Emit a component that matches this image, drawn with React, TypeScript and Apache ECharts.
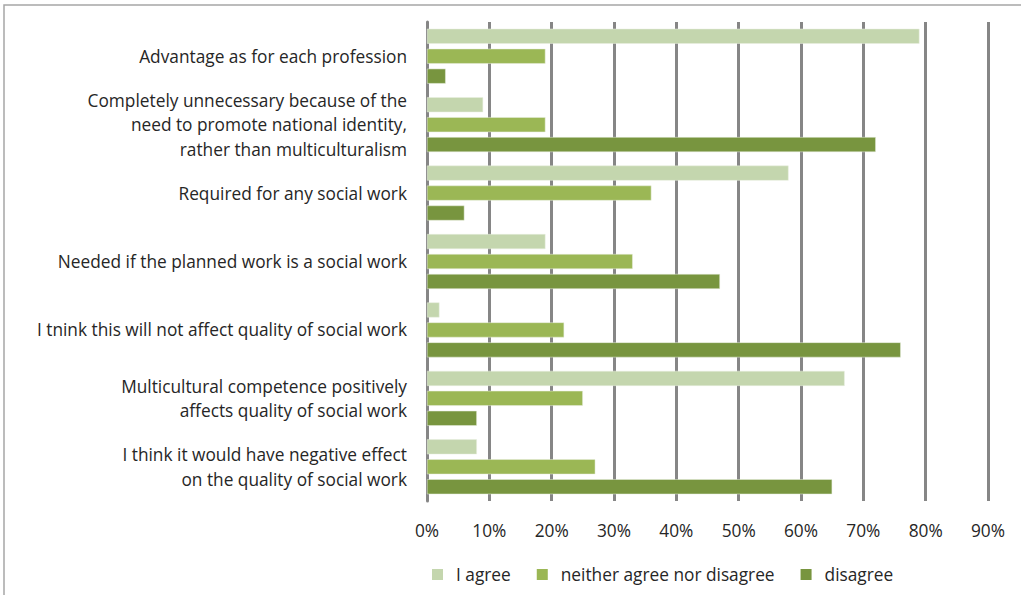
import React, { useEffect, useRef } from "react";
import * as echarts from "echarts";

const categories = [
  "Advantage as for each profession",
  "Completely unnecessary because of the\nneed to promote national identity,\nrather than multiculturalism",
  "Required for any social work",
  "Needed if the planned work is a social work",
  "I tnink this will not affect quality of social work",
  "Multicultural competence positively\naffects quality of social work",
  "I think it would have negative effect\non the quality of social work",
];

const agree = [79, 9, 58, 19, 2, 67, 8];
const neither = [19, 19, 36, 33, 22, 25, 27];
const disagree = [3, 72, 6, 47, 76, 8, 65];

const seriesNames = ["I agree", "neither agree nor disagree", "disagree"];
const colors = ["#c4d6ae", "#9bb755", "#78953f"];

const FONT = "'Open Sans', 'Noto Sans', sans-serif";
const FS = 17.3;

export default function App() {
  const ref = useRef<HTMLDivElement>(null);
  useEffect(() => {
    if (!ref.current) return;
    const chart = echarts.init(ref.current, undefined, { renderer: "svg" });
    const data = [agree, neither, disagree];
    chart.setOption({
      animation: false,
      backgroundColor: "#ffffff",
      textStyle: { fontFamily: FONT },
      graphic: [
        {
          type: "rect",
          shape: { x: 4, y: 5, width: 1040, height: 620 },
          style: { fill: "none", stroke: "#a6a6a6", lineWidth: 1.5 },
          silent: true,
          z: -1,
        },
      ],
      grid: { left: 427, right: 33, top: 22, bottom: 94, containLabel: false },
      xAxis: {
        type: "value",
        min: 0,
        max: 90,
        interval: 10,
        axisLabel: {
          formatter: "{value}%",
          fontSize: FS,
          color: "#262626",
          margin: 21,
          fontFamily: FONT,
        },
        axisLine: { show: false },
        axisTick: { show: false },
        splitLine: { show: true, lineStyle: { color: "#868686", width: 3 } },
      },
      yAxis: {
        type: "category",
        data: categories,
        inverse: true,
        axisLine: { show: true, lineStyle: { color: "#868686", width: 3 } },
        axisTick: { show: false },
        axisLabel: {
          fontSize: FS,
          color: "#262626",
          margin: 20,
          lineHeight: 24.5,
          align: "right",
          fontFamily: FONT,
        },
      },
      legend: {
        top: 561,
        left: 427,
        itemWidth: 19,
        itemHeight: 11,
        itemGap: 26,
        icon: "path://M0 0h11v11H0zM19 0h0v11h0z",
        itemStyle: { borderWidth: 0 },
        textStyle: { fontSize: FS, color: "#262626", fontFamily: FONT },
        data: seriesNames,
      },
      series: seriesNames.map((name, i) => ({
        name,
        type: "bar",
        data: data[i],
        barWidth: 15,
        barGap: "33%",
        itemStyle: { color: colors[i], borderColor: "#e8efe0", borderWidth: 0.5 },
      })),
    });
    return () => chart.dispose();
  }, []);
  return (
    <div
      ref={ref}
      style={{ position: "fixed", left: 0, top: 0, width: 1021, height: 595 }}
    />
  );
}
